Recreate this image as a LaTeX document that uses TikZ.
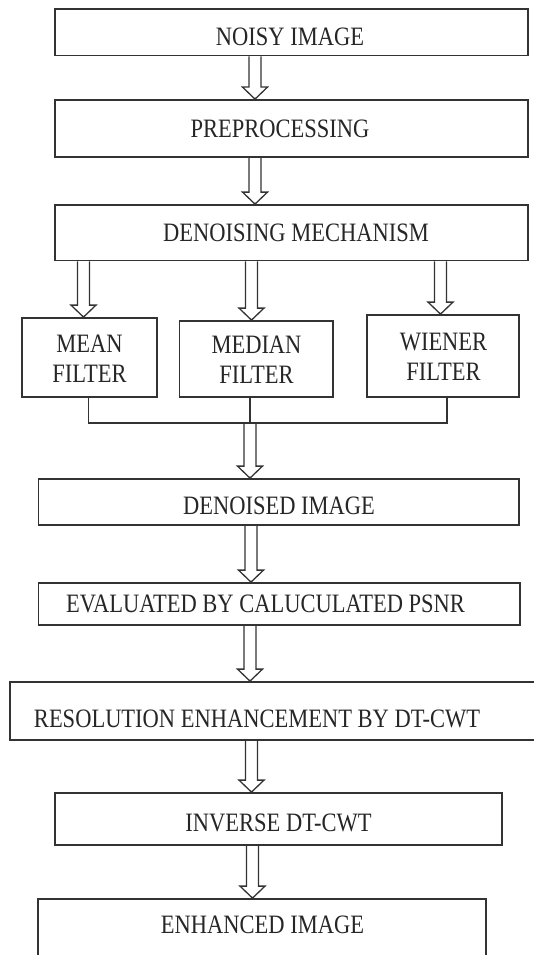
\documentclass[tikz,border=0pt]{standalone}
\usepackage{fontspec}
\setmainfont{Liberation Serif}
\usetikzlibrary{calc}
\newcommand{\vs}[1]{\scalebox{1}[1.18]{#1}}
\tikzset{
  box/.style={draw=black!80, line width=1.8pt, inner sep=0pt},
  txt/.style={text=black!85, font=\fontsize{22.5}{30}\selectfont, inner sep=0pt, align=center},
  link/.style={draw=black!80, line width=1.3pt},
  hollow/.style={draw=black!80, line width=1.3pt, line join=miter,
    to path={let \p1=(\tikztostart), \p2=(\tikztotarget) in
      (\x1-6pt,\y1) -- (\x1-6pt,\y2+12pt) -- (\x1-12.5pt,\y2+12pt) -- (\x1,\y2)
      -- (\x1+12.5pt,\y2+12pt) -- (\x1+6pt,\y2+12pt) -- (\x1+6pt,\y1)}}
}
\begin{document}
\begin{tikzpicture}[x=1pt,y=-1pt]
\clip (0,0) rectangle (534,955);
\fill[white] (0,0) rectangle (534,955);
% boxes
\node[box, minimum width=473pt, minimum height=46.5pt] (noisy) at (291.5,32.25) {};
\node[box, minimum width=473pt, minimum height=57pt] (pre) at (291.5,128.5) {};
\node[box, minimum width=473pt, minimum height=55.5pt] (den) at (291.5,232.75) {};
\node[box, minimum width=135pt, minimum height=79pt] (mean) at (89.5,357.5) {};
\node[box, minimum width=153.5pt, minimum height=76pt] (median) at (256.25,359) {};
\node[box, minimum width=152pt, minimum height=82pt] (wiener) at (443,356) {};
\node[box, minimum width=480.5pt, minimum height=46pt] (denoised) at (278.75,502) {};
\node[box, minimum width=481.5pt, minimum height=42pt] (eval) at (279.25,604) {};
\node[box, minimum width=550pt, minimum height=58pt] (res) at (285,711) {};
\node[box, minimum width=447pt, minimum height=52pt] (inv) at (278.5,819) {};
\node[box, minimum width=448pt, minimum height=76pt] (enh) at (262,937) {};
% texts
\node[txt] (t1) at (290,36.5) {\vs{NOISY IMAGE}};
\node[txt] (t2) at (280,128.5) {\vs{PREPROCESSING}};
\node[txt] (t3) at (296,233) {\vs{DENOISING MECHANISM}};
\node[txt] (t4) at (89.5,359) {\vs{MEAN}\\\vs{FILTER}};
\node[txt] (t5) at (256.5,360) {\vs{MEDIAN}\\\vs{FILTER}};
\node[txt] (t6) at (443.5,357) {\vs{WIENER}\\\vs{FILTER}};
\node[txt] (t7) at (279,506) {\vs{DENOISED IMAGE}};
\node[txt] (t8) at (265.5,604) {\vs{EVALUATED BY CALUCULATED PSNR}};
\node[txt] (t9) at (257,719) {\vs{RESOLUTION ENHANCEMENT BY DT-CWT}};
\node[txt] (t10) at (278.5,822.5) {\vs{INVERSE DT-CWT}};
\node[txt] (t11) at (262.5,925) {\vs{ENHANCED IMAGE}};
% connectors
\coordinate (join) at (250,423);
\draw[hollow] ([xshift=-36.5pt]noisy.south) to (pre.north);
\draw[hollow] ([xshift=-36.5pt]pre.south) to (den.north);
\draw[hollow] ([xshift=-208pt]den.south) to (mean.north);
\draw[hollow] ([xshift=-40pt]den.south) to (median.north);
\draw[hollow] ([xshift=149pt]den.south) to (wiener.north);
\draw[link] ([xshift=-1pt]mean.south) |- (join) -| ([xshift=4pt]wiener.south);
\draw[link] ([xshift=-6.25pt]median.south) -- (join);
\draw[hollow] (join) to (denoised.north);
\draw[hollow] ([xshift=-27.75pt]denoised.south) to (eval.north);
\draw[hollow] ([xshift=-29.25pt]eval.south) to (res.north);
\draw[hollow] ([xshift=-33.5pt]res.south) to (inv.north);
\draw[hollow] ([xshift=-26pt]inv.south) to (enh.north);
\end{tikzpicture}
\end{document}
